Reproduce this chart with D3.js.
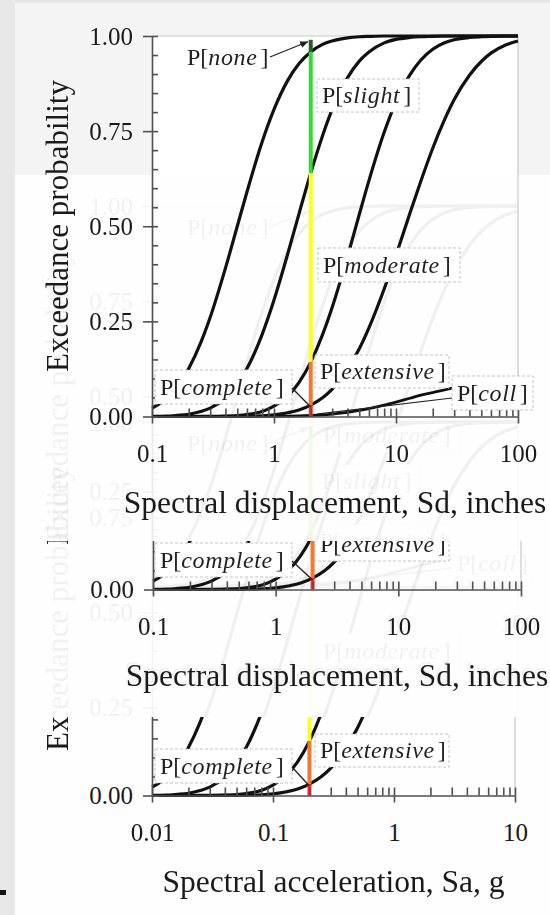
<!DOCTYPE html>
<html lang="en">
<head>
<meta charset="utf-8">
<title>Fragility curves</title>
<script src="https://cdn.jsdelivr.net/npm/d3@7"></script>
<style>
  body { margin: 0; background: #fefefe; }
  svg text { font-family: "Liberation Serif", "Times New Roman", serif; }
</style>
</head>
<body>
<svg id="chart" width="550" height="915"></svg>
<script>
// ---- data ----
var sdGrid = [0.1, 0.13, 0.16, 0.2, 0.25, 0.3, 0.4, 0.5, 0.6, 0.8, 1, 1.3, 1.6, 2, 2.5, 3, 4, 5, 6, 8,
              10, 13, 16, 20, 25, 30, 40, 50, 60, 80, 100];
var saGrid = [0.01, 0.013, 0.016, 0.02, 0.025, 0.03, 0.04, 0.05, 0.06, 0.08, 0.1, 0.13, 0.16, 0.2, 0.25,
              0.3, 0.4, 0.5, 0.6, 0.8, 1, 1.3, 1.6, 2, 2.5, 3, 4, 5, 6, 8, 10];
var pSlight = [0.022, 0.046, 0.077, 0.126, 0.193, 0.261, 0.390, 0.500, 0.590, 0.722, 0.807, 0.884, 0.927,
               0.958, 0.978, 0.987, 0.995, 0.998, 0.999, 1, 1, 1, 1, 1, 1, 1, 1, 1, 1, 1, 1];
var pModerate = [0.0004, 0.001, 0.003, 0.006, 0.013, 0.022, 0.049, 0.085, 0.126, 0.216, 0.306, 0.429, 0.532,
                 0.640, 0.738, 0.807, 0.890, 0.934, 0.958, 0.982, 0.991, 0.996, 0.998, 0.999, 1, 1, 1, 1, 1, 1, 1];
var pExtensive = [0, 0, 0, 0, 0.0001, 0.0003, 0.001, 0.0025, 0.005, 0.013, 0.027, 0.054, 0.089, 0.143,
                  0.215, 0.287, 0.420, 0.531, 0.620, 0.747, 0.827, 0.898, 0.937, 0.965, 0.982, 0.990,
                  0.996, 0.998, 0.999, 1, 1];
var pComplete = [0, 0, 0, 0, 0, 0, 0.0002, 0.0004, 0.0008, 0.002, 0.0045, 0.010, 0.017, 0.030, 0.049,
                 0.072, 0.124, 0.178, 0.233, 0.335, 0.424, 0.534, 0.619, 0.705, 0.780, 0.833, 0.897,
                 0.933, 0.955, 0.977, 0.987];
var pColl = [0, 0, 0, 0, 0, 0, 0, 0, 0, 0.0002, 0.0004, 0.0009, 0.0015, 0.0027, 0.0044, 0.0065, 0.011,
             0.016, 0.021, 0.030, 0.038, 0.048, 0.056, 0.063, 0.070, 0.075, 0.081, 0.084, 0.086, 0.088, 0.089];

var sdMarker = 2, saMarker = 0.2;
var markerBreaks = [0.99, 0.958, 0.64, 0.143, 0.03, 0];
var markerColors = ["#275f27", "#30dc30", "#ffff1c", "#f7772e", "#ff2b2b"];

var yTicks = [0, 0.25, 0.5, 0.75, 1];
var yTickLabels = ["0.00", "0.25", "0.50", "0.75", "1.00"];
var yMinor = [0, 0.05, 0.1, 0.15, 0.2, 0.25, 0.3, 0.35, 0.4, 0.45, 0.5, 0.55, 0.6, 0.65, 0.7, 0.75, 0.8, 0.85, 0.9, 0.95, 1];
var sdTicks = [0.1, 1, 10, 100], sdTickLabels = ["0.1", "1", "10", "100"];
var saTicks = [0.01, 0.1, 1, 10], saTickLabels = ["0.01", "0.1", "1", "10"];

// label boxes, pixel layout of the top panel
var boxes = {
  slight:    [317, 79, 102, 33],
  moderate:  [318, 248, 142, 34],
  extensive: [315, 355, 134, 33],
  complete:  [155, 370, 137, 34],
  coll:      [452, 376, 81, 34]
};

var W = 550, H = 915;
var svg = d3.select("#chart");
var defs = svg.append("defs");

defs.append("marker").attr("id", "head")
  .attr("viewBox", "0 0 10 10").attr("refX", 9).attr("refY", 5)
  .attr("markerWidth", 7).attr("markerHeight", 7).attr("orient", "auto")
  .append("path").attr("d", "M0,1L10,5L0,9z").attr("fill", "#222");

function clip(id, y0, y1) {
  defs.append("clipPath").attr("id", id)
    .append("rect").attr("x", 0).attr("y", y0).attr("width", W).attr("height", y1 - y0);
}
clip("cMain", 0, 526);
clip("cMid", 541, 705);
clip("cBot", 717, H);
clip("cG1", 176, 717);
clip("cG2", 420, 717);

// background
svg.append("rect").attr("width", W).attr("height", H).attr("fill", "#fefefe");
svg.append("rect").attr("x", 15).attr("y", 3).attr("width", 535).attr("height", 172).attr("fill", "#f4f4f4");
svg.append("rect").attr("x", 152).attr("y", 36).attr("width", 366).attr("height", 140).attr("fill", "#ffffff");
svg.append("rect").attr("x", 0).attr("y", 0).attr("width", 15).attr("height", H).attr("fill", "#e8e8e8");
svg.append("rect").attr("x", 0).attr("y", 0).attr("width", W).attr("height", 3).attr("fill", "#e8e8e8");

function addLabel(g, name, box, tx, ty) {
  if (box) {
    g.append("rect").attr("x", box[0]).attr("y", box[1]).attr("width", box[2]).attr("height", box[3])
      .attr("fill", "#fff").attr("stroke", "#c4c4c4").attr("stroke-width", 1).attr("stroke-dasharray", "3,2");
    tx = box[0] + 5; ty = box[1] + box[3] - 9;
  }
  var t = g.append("text").attr("x", tx).attr("y", ty).attr("font-size", 24).attr("fill", "#1f1f1f");
  t.append("tspan").text("P[");
  t.append("tspan").attr("font-style", "italic").attr("letter-spacing", 0.6).text(name);
  t.append("tspan").attr("dx", 3).text("]");
}

function drawPanel(root, o) {
  var g = root.append("g").attr("transform", "translate(0," + o.dy + ")");
  var x = d3.scaleLog().domain(o.domain).range([o.x0, o.x1]);
  var y = d3.scaleLinear().domain([0, 1]).range([416.5, 36]);

  // light frame top / right
  g.append("path").attr("d", "M" + o.x0 + "," + y(1) + "H" + o.x1 + "V" + y(0))
    .attr("fill", "none").attr("stroke", "#c9c9c9").attr("stroke-width", 1.2);

  var line = d3.line().x(function(d) { return x(d[0]); }).y(function(d) { return y(d[1]); })
    .curve(d3.curveMonotoneX);
  var series = [pSlight, pModerate, pExtensive, pComplete];
  if (o.coll) series.push(pColl);
  series.forEach(function(s, k) {
    g.append("path").datum(o.grid.map(function(v, i) { return [v, s[i]]; }))
      .attr("d", line).attr("fill", "none").attr("stroke", "#111")
      .attr("stroke-width", k == 4 ? 2.8 : 3.2).attr("stroke-linejoin", "round");
  });

  // coloured damage-state marker
  var mx = x(o.marker);
  for (var i = 0; i < markerColors.length; i++) {
    g.append("line").attr("x1", mx).attr("x2", mx)
      .attr("y1", y(markerBreaks[i])).attr("y2", y(markerBreaks[i + 1]))
      .attr("stroke", markerColors[i]).attr("stroke-width", 4);
  }

  // axes
  var ax = g.append("g").attr("transform", "translate(" + o.x0 + ",0)")
    .call(d3.axisLeft(y).tickValues(yTicks).tickFormat(function(d, i) { return yTickLabels[i]; })
      .tickSize(9).tickPadding(10).tickSizeOuter(0));
  var ax2 = g.append("g").attr("transform", "translate(" + o.x0 + ",0)")
    .call(d3.axisRight(y).tickValues(yMinor).tickSize(6).tickFormat("").tickSizeOuter(0));
  ax2.select(".domain").remove();
  var bx = g.append("g").attr("transform", "translate(0," + y(0) + ")")
    .call(d3.axisBottom(x).tickValues(o.ticks).tickFormat(function(d, i) { return o.tickLabels[i]; })
      .tickSize(7).tickPadding(21).tickSizeOuter(0));
  var bx2 = g.append("g").attr("transform", "translate(0," + y(0) + ")")
    .call(d3.axisTop(x).tickValues(x.ticks()).tickSize(8).tickFormat("").tickSizeOuter(0));
  bx2.select(".domain").remove();
  [ax, ax2, bx, bx2].forEach(function(a) {
    a.attr("color", "#505050").attr("font-family", null).attr("font-size", 25);
    a.selectAll("line, path").attr("stroke-width", 1.6);
    a.selectAll("text").attr("fill", "#1a1a1a");
  });

  g.append("text").attr("transform", "translate(68,226) rotate(-90)").attr("text-anchor", "middle")
    .attr("font-size", 31).attr("fill", "#1a1a1a").text("Exceedance probability");
  g.append("text").attr("x", (o.x0 + o.x1) / 2).attr("y", y(0) + 96).attr("text-anchor", "middle")
    .attr("font-size", 31.5).attr("fill", "#1a1a1a").text(o.title);

  // labels and leaders
  addLabel(g, "none", null, 187, 65);
  g.append("line").attr("x1", 270).attr("y1", 57).attr("x2", mx - 3).attr("y2", y(0.985))
    .attr("stroke", "#222").attr("stroke-width", 1.2).attr("marker-end", "url(#head)");
  addLabel(g, "slight", boxes.slight);
  addLabel(g, "moderate", boxes.moderate);
  addLabel(g, "extensive", boxes.extensive);
  addLabel(g, "complete", boxes.complete);
  g.append("line").attr("x1", 292).attr("y1", 388).attr("x2", mx).attr("y2", y(0.025))
    .attr("stroke", "#222").attr("stroke-width", 1.3);
  if (o.coll) {
    addLabel(g, "coll", boxes.coll);
    g.append("line").attr("x1", 452).attr("y1", 398).attr("x2", mx + 6).attr("y2", y(0.006))
      .attr("stroke", "#222").attr("stroke-width", 1.2);
  }
}

var sdOpts = { domain: [0.1, 100], grid: sdGrid, marker: sdMarker, ticks: sdTicks, tickLabels: sdTickLabels,
               title: "Spectral displacement, Sd, inches" };
function opts(extra) { return Object.assign({}, sdOpts, extra); }

// faint after-images
drawPanel(svg.append("g").attr("clip-path", "url(#cG1)").attr("opacity", 0.055),
  opts({ dy: 170, x0: 152, x1: 518, coll: true }));
drawPanel(svg.append("g").attr("clip-path", "url(#cG2)").attr("opacity", 0.055),
  opts({ dy: 386, x0: 152, x1: 518, coll: true }));

// main, middle strip, bottom strip
drawPanel(svg.append("g").attr("clip-path", "url(#cMain)"), opts({ dy: 0, x0: 152, x1: 518, coll: true }));
drawPanel(svg.append("g").attr("clip-path", "url(#cMid)"), opts({ dy: 173, x0: 153, x1: 521, coll: false }));
drawPanel(svg.append("g").attr("clip-path", "url(#cBot)"),
  { dy: 379, x0: 152, x1: 515, domain: [0.01, 10], grid: saGrid, marker: saMarker, ticks: saTicks,
    tickLabels: saTickLabels, title: "Spectral acceleration, Sa, g", coll: false });

svg.append("rect").attr("x", 0).attr("y", 890).attr("width", 6).attr("height", 5).attr("fill", "#111");
</script>
</body>
</html>
